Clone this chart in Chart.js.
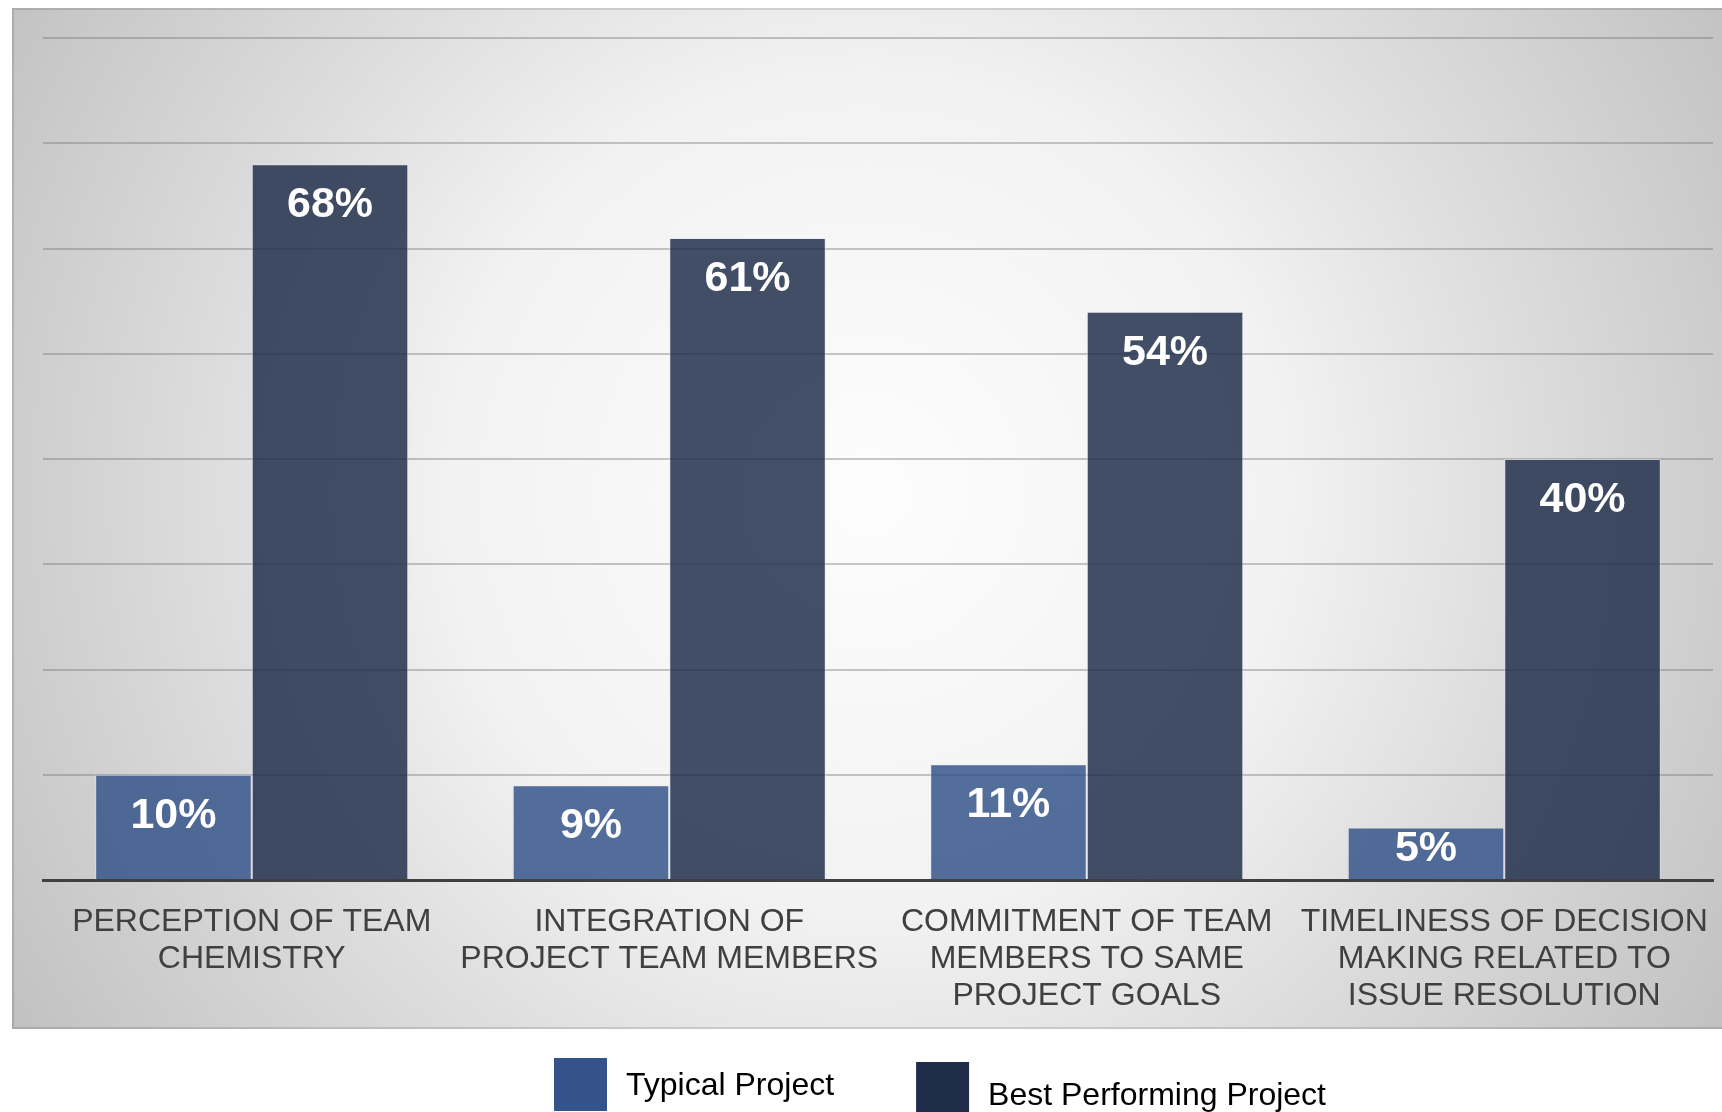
<!DOCTYPE html>
<html>
<head>
<meta charset="utf-8">
<script src="https://cdn.jsdelivr.net/npm/chart.js@4.4.1/dist/chart.umd.min.js"></script>
<style>
  html, body { margin: 0; padding: 0; background: #ffffff; }
  canvas { display: block; }
</style>
</head>
<body>
<canvas id="chart" width="1722" height="1112"></canvas>
<script>
// ---- data ----
const categories = [
  ['PERCEPTION OF TEAM', 'CHEMISTRY'],
  ['INTEGRATION OF', 'PROJECT TEAM MEMBERS'],
  ['COMMITMENT OF TEAM', 'MEMBERS TO SAME', 'PROJECT GOALS'],
  ['TIMELINESS OF DECISION', 'MAKING RELATED TO', 'ISSUE RESOLUTION']
];
const seriesNames = ['Typical Project', 'Best Performing Project'];
const typicalValues = [10, 9, 11, 5];
const bestValues = [68, 61, 54, 40];
const yTicks = [0, 10, 20, 30, 40, 50, 60, 70, 80];

// ---- styling ----
const FONT = '"Liberation Sans", Arial, Helvetica, sans-serif';
const swatchColors = ['#34538A', '#1F2D4A'];
const barColors = ['rgba(52, 83, 138, 0.84)', 'rgba(31, 45, 74, 0.84)'];

// Shaded panel behind the plot and category labels
const panelBackground = {
  id: 'panelBackground',
  beforeDraw(chart) {
    const { ctx, chartArea } = chart;
    const left = chartArea.left - 31;
    const top = chartArea.top - 30;
    const right = chart.width;
    const bottom = chartArea.bottom + 149;
    const w = right - left, h = bottom - top;
    const cx = left + w / 2, cy = top + h / 2 - 25;
    const r = Math.hypot(w / 2, h / 2);
    const g = ctx.createRadialGradient(cx, cy, 0, cx, cy, r);
    g.addColorStop(0, '#fdfdfd');
    g.addColorStop(0.42, '#f2f2f2');
    g.addColorStop(0.66, '#dddddd');
    g.addColorStop(1, '#c2c2c2');
    ctx.save();
    ctx.fillStyle = g;
    ctx.fillRect(left, top, w, h);
    ctx.strokeStyle = 'rgba(0,0,0,0.12)';
    ctx.lineWidth = 2;
    ctx.strokeRect(left + 1, top + 1, w, h - 2);
    ctx.restore();
  }
};

// White percentage labels inside the top of each bar
// (short bars get the label pulled up so it stays inside the bar)
const barValueLabels = {
  id: 'barValueLabels',
  afterDatasetsDraw(chart) {
    const { ctx } = chart;
    ctx.save();
    ctx.font = 'bold 43px ' + FONT;
    ctx.fillStyle = '#ffffff';
    ctx.textAlign = 'center';
    ctx.textBaseline = 'middle';
    chart.data.datasets.forEach((ds, i) => {
      const meta = chart.getDatasetMeta(i);
      meta.data.forEach((bar, j) => {
        const barHeight = bar.base - bar.y;
        const offset = Math.min(41, barHeight / 2 - 4.5);
        ctx.fillText(ds.data[j] + '%', bar.x, bar.y + offset);
      });
    });
    ctx.restore();
  }
};

// Legend drawn below the panel with square swatches
const swatchLegend = {
  id: 'swatchLegend',
  afterDraw(chart, args, opts) {
    const { ctx } = chart;
    ctx.save();
    ctx.font = opts.fontSize + 'px ' + FONT;
    ctx.textBaseline = 'alphabetic';
    ctx.textAlign = 'left';
    let x = opts.left;
    chart.data.datasets.forEach((ds, i) => {
      const boxTop = opts.top + opts.boxDy[i];
      ctx.fillStyle = swatchColors[i];
      ctx.fillRect(x, boxTop, opts.box, opts.box);
      const tx = x + opts.box + opts.textGap;
      ctx.fillStyle = '#000000';
      ctx.fillText(ds.label, tx, opts.top + opts.textDy[i]);
      x = tx + ctx.measureText(ds.label).width + opts.itemGap;
    });
    ctx.restore();
  }
};

new Chart(document.getElementById('chart'), {
  type: 'bar',
  data: {
    labels: categories,
    datasets: [
      {
        label: seriesNames[0],
        data: typicalValues,
        backgroundColor: barColors[0],
        borderColor: 'rgba(225, 230, 240, 0.55)',
        borderWidth: 1
      },
      {
        label: seriesNames[1],
        data: bestValues,
        backgroundColor: barColors[1],
        borderColor: 'rgba(225, 230, 240, 0.55)',
        borderWidth: 1
      }
    ]
  },
  options: {
    responsive: false,
    devicePixelRatio: 1,
    animation: false,
    layout: { padding: { left: 43, right: 9, top: 38, bottom: 73 } },
    datasets: { bar: { categoryPercentage: 0.75, barPercentage: 1.0 } },
    scales: {
      x: {
        grid: { display: false, drawTicks: false },
        border: { display: true, color: '#404040', width: 3 },
        afterFit(scale) { scale.paddingLeft = 0; scale.paddingRight = 0; },
        ticks: {
          color: '#404040',
          padding: 24,
          maxRotation: 0,
          autoSkip: false,
          font: { family: FONT, size: 32, lineHeight: '37px' }
        }
      },
      y: {
        min: yTicks[0],
        max: yTicks[yTicks.length - 1],
        afterBuildTicks(scale) { scale.ticks = yTicks.map(v => ({ value: v })); },
        grid: { color: 'rgba(110,110,110,0.38)', lineWidth: 2, drawTicks: false },
        border: { display: false },
        ticks: { display: false }
      }
    },
    plugins: {
      legend: { display: false },
      tooltip: { enabled: false },
      swatchLegend: {
        left: 554, top: 1058, box: 53, textGap: 19, itemGap: 82, fontSize: 32,
        boxDy: [0, 4], textDy: [37, 47]
      }
    }
  },
  plugins: [panelBackground, barValueLabels, swatchLegend]
});
</script>
</body>
</html>
